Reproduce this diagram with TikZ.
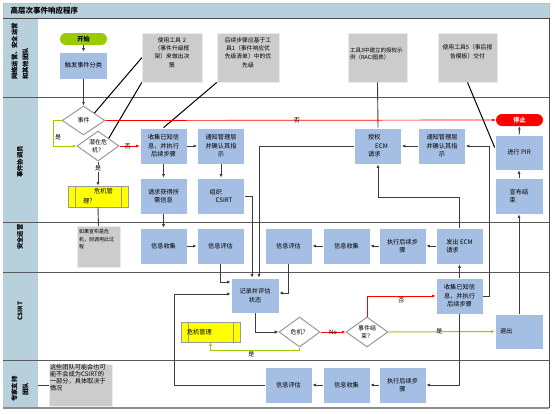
\documentclass[tikz,border=0pt]{standalone}
\usepackage{fontspec}
\setmainfont{Noto Sans CJK SC}
\usetikzlibrary{shapes.geometric}
\usetikzlibrary{arrows.meta}
\definecolor{boxblue}{RGB}{165,190,227}
\definecolor{notegray}{RGB}{204,204,204}
\definecolor{lanefill}{RGB}{184,207,220}
\definecolor{crisisyellow}{RGB}{255,255,0}
\definecolor{yesgreen}{RGB}{153,204,0}
\definecolor{flowgray}{RGB}{60,60,60}

\begin{document}
\begin{tikzpicture}[x=1pt, y=-1pt, >={Latex[length=3.5pt,width=3pt]},
    box/.style={draw=white, line width=0.6pt, fill=boxblue, minimum width=47, minimum height=36, inner sep=1pt, align=center, font=\fontsize{6.2}{8.5}\selectfont},
    note/.style={draw=black!8, fill=notegray, anchor=north, inner xsep=2pt, inner ysep=3pt, align=center, font=\fontsize{5.8}{8.3}\selectfont},
    dia/.style={diamond, draw=black!40, line width=1pt, fill=white, aspect=1.45, inner sep=0pt, minimum width=42, minimum height=30, align=center, font=\fontsize{6}{8}\selectfont},
    pill/.style={rounded corners=6pt, minimum width=47, minimum height=12, inner sep=0pt, font=\bfseries\fontsize{6.2}{7}\selectfont},
    crisis/.style={draw=black!40, line width=0.8pt, fill=crisisyellow, inner sep=1pt, font=\fontsize{6.2}{10}\selectfont,
        path picture={\draw[black!40, line width=0.8pt]
            ([xshift=7pt]path picture bounding box.north west) -- ([xshift=7pt]path picture bounding box.south west)
            ([xshift=-7pt]path picture bounding box.north east) -- ([xshift=-7pt]path picture bounding box.south east);}},
    lane/.style={rotate=90, font=\bfseries\fontsize{6.3}{11}\selectfont},
    flow/.style={draw=flowgray, line width=0.9pt},
    link/.style={draw=black, line width=1pt},
    nopath/.style={draw=red, line width=0.7pt},
    yespath/.style={draw=yesgreen, line width=1pt},
    lbl/.style={inner sep=1pt, font=\fontsize{6}{7}\selectfont}]
    % frame and swim lanes
    \useasboundingbox (0,0) rectangle (555,413);
    \fill[lanefill] (3,3) rectangle (549,18);
    \fill[lanefill] (3,18) rectangle (38,408);
    \draw[black!25] (3,3) rectangle (549,18);
    \draw[black!70, line width=0.8pt] (3,18) -- (549,18) -- (549,408);
    \draw[black!45, line width=1.6pt] (3,408) -- (549,408);
    \foreach \y in {97,222,272,360} \draw[black!65, line width=1pt] (3,\y) -- (549,\y);
    \node[anchor=west, font=\bfseries\fontsize{7.5}{9}\selectfont] (title) at (7,10.5) {高层次事件响应程序};

    \node[lane, align=left] (l1) at (20,51.5) {网络运营、安全运营\\和其他团队};
    \node[lane] (l2) at (20,162) {事件协调员};
    \node[lane] (l3) at (20,237) {安全运营};
    \node[lane] (l4) at (20,311) {CSIRT};
    \node[lane, align=center] (l5) at (20,389) {专家支持\\团队};

    % nodes
    \node[pill, fill=yesgreen] (start) at (83.5,39) {开始};
    \node[box, minimum width=48, minimum height=27] (trig) at (83.5,65.5) {触发事件分类};
    \node[note, text width=56, text height=6, text depth=37] (n1) at (172,33) {使用工具 2\\（事件升级框\\架）来做出决\\策};
    \node[note, text width=58, text height=6, text depth=37] (n2) at (248,33) {后续步骤应基于工\\具1（事件响应优\\先级清单）中的优\\先级};
    \node[note, align=left, text width=55, text height=16, text depth=27, font=\fontsize{5.5}{7.5}\selectfont] (n3) at (377.5,33) {工具3中建立的授权示\\例（RACI图表）};
    \node[note, text width=55, text height=13.5, text depth=29.5] (n4) at (467.5,33) {使用工具5（事后报\\告模板）交付};

    \node[dia, minimum width=43, minimum height=29] (ev) at (83.5,120.5) {事件};
    \node[dia] (pc) at (98,146) {潜在危\\机？};
    \node[crisis, minimum width=60, minimum height=21, align=left] (cm) at (98,196.5) {\hspace*{11pt}危机管\\理？};
    \node[note, align=left, text width=39, text height=4.5, text depth=30.5, inner ysep=3pt, font=\fontsize{5}{7.5}\selectfont] (cmnote) at (98.5,226) {如果宣布是危\\机，则调用此过\\程};

    \node[box] (gk1) at (163.5,146) {收集已知信\\息，并执行\\后续步骤};
    \node[box] (nm1) at (221,146) {通知管理层\\并确认其指\\示};
    \node[box] (rq) at (163.5,196) {请求获得所\\需信息};
    \node[box, align=left] (og) at (221,196) {组织\\\hspace*{6pt}CSIRT};
    \node[box, align=left] (au) at (378,146) {授权\\\hspace*{7pt}ECM\\请求};
    \node[box] (nm2) at (442,146) {通知管理层\\并确认其指\\示};
    \node[pill, fill=red, text=white] (stop) at (519.5,120) {停止};
    \node[box, minimum width=48, minimum height=35] (pir) at (519,152.5) {进行 PIR};
    \node[box, minimum width=48, align=left] (dec) at (519,196) {宣布结\\束};

    \node[box] (ic1) at (163.5,246) {信息收集};
    \node[box] (ia1) at (220.5,246) {信息评估};
    \node[box] (ia2) at (288.5,246) {信息评估};
    \node[box] (ic2) at (346.5,246) {信息收集};
    \node[box] (fs1) at (402.5,246) {执行后续步\\骤};
    \node[box, align=left] (ecm) at (459.5,246) {发出 ECM\\请求};

    \node[box, minimum width=48, minimum height=35] (log) at (255,295.5) {记录并评估\\状态};
    \node[crisis, minimum width=59, minimum height=20, text width=47, align=left] (cm2) at (210.5,332) {危机管理};
    \node[dia, minimum width=41] (cr) at (299.5,332) {危机？};
    \node[dia] (ee) at (367,332) {事件结\\束？};
    \node[box] (gk2) at (459.5,296) {收集已知信\\息，并执行\\后续步骤};
    \node[box, minimum width=48, minimum height=35, text width=38, align=left] (ex) at (519,331.5) {退出};

    \node[note, align=left, text width=61, inner xsep=1pt, inner ysep=1pt, text height=4.5, text depth=35.5, font=\fontsize{6.2}{6.8}\selectfont] (tnote) at (80.5,364) {这些团队可能会也可\\能不会成为CSIRT的\\一部分，具体取决于\\情况};
    \node[box] (ia3) at (288.5,385) {信息评估};
    \node[box] (ic3) at (346.5,385) {信息收集};
    \node[box] (fs2) at (402.5,385) {执行后续步\\骤};

    % connectors
    \draw[flow,->] (start) -- (trig);
    \draw[flow,->] (trig) -- (ev);
    \draw[link] (n1.west) -- (ev.north east);
    \draw[link] (n1.south west) -- (pc.north east);
    \draw[link] (n2.south west) -- (gk1.north);
    \draw[flow] (n3.south) -- (au.north);
    \draw[link] (n4.south) -- ([yshift=5pt]pir.west);

    \draw[yespath,->] (ev.west) -- ++(-8,0) |- node[pos=0.33, right, lbl] {是} (pc.west);
    \draw[nopath,->] (ev.east) -- node[pos=0.49, lbl] {否} (stop.west);
    \draw[nopath,->] (pc.east) -- node[pos=0.4, lbl] {否} (gk1.west);
    \draw[flow,->] (pc.south) -- node[pos=0.28, lbl, fill=white] {是} (cm.north);
    \draw[flow] (cm.south) -- (cmnote.north);

    \draw[flow,->] (gk1) -- (nm1);
    \draw[flow,->] (gk1) -- (rq);
    \draw[flow,->] (nm1) -- (og);
    \draw[flow,->] (rq) -- (ic1);
    \draw[flow,->] (ic1) -- (ia1);
    \draw[flow,->] (ia1.south) |- ([yshift=13.5pt]log.west);
    \draw[flow,->] (og.east) -| ([xshift=-3pt]log.north);
    \draw[flow,->] (au.west) -| ([xshift=4pt]log.north);
    \draw[flow,->] (ia2.south) |- ([yshift=2.5pt]log.east);
    \draw[flow,->] (ecm) -- (fs1);
    \draw[flow,->] (fs1) -- (ic2);
    \draw[flow,->] (ic2) -- (ia2);
    \draw[flow,->] (ecm.north) |- ([yshift=-33pt]au.south) -- (au.south);
    \draw[flow,->] (gk2) -- (ecm);
    \draw[flow,->] (gk2.east) -- ++(6,0) |- (nm2.east);
    \draw[flow,->] (nm2) -- (au);
    \draw[flow,->] (dec) -- (pir);
    \draw[flow,->] (pir) -- (stop);
    \draw[flow,->] (ex.north) -- (dec.south);

    \draw[flow,-{Latex[open,length=4pt,width=4pt]}] (log.south) |- (cr.west);
    \draw[nopath,->] (cr.east) -- node[lbl] {No} (ee.west);
    \draw[yespath,->] (cr.south) -- ++(0,3) -| node[pos=0.27, below, lbl] {是} (cm2.south);
    \draw[nopath,->] (ee.north) |- node[pos=0.75, below, lbl] {否} (gk2.west);
    \draw[yespath,->] (ee.east) -- node[pos=0.48, lbl] {是} (ex.west);
    \draw[flow,->] (gk2.south) |- (fs2.east);
    \draw[flow,->] (fs2) -- (ic3);
    \draw[flow,->] (ic3) -- (ia3);
    \draw[flow,->] (ia3.west) -- ++(-90,0) |- ([yshift=1.5pt]log.west);
    \draw[flow] (tnote.west) -- ++(-11,0);
\end{tikzpicture}
\end{document}
